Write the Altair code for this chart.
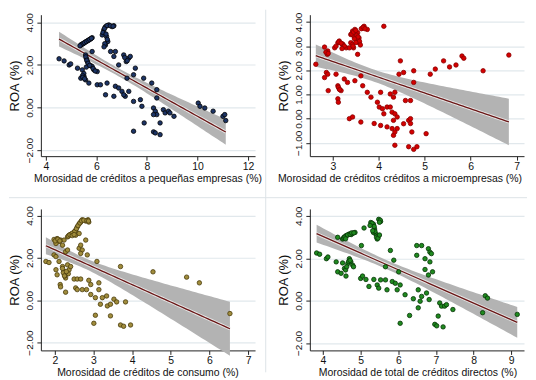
import altair as alt
import numpy as np
import pandas as pd

# ---------------- data ----------------
x1 = [4.52, 4.72, 4.92, 4.98, 5.25, 5.44, 5.51, 5.38, 5.57, 5.70, 5.38, 5.44, 5.50, 5.57, 5.64, 5.70,
      5.77, 5.83, 5.57, 5.60, 5.64, 5.70, 5.77, 5.83, 5.90, 6.03, 5.83, 6.23, 6.29, 6.36, 6.49, 6.62,
      6.69, 6.40, 6.45, 6.36, 6.56, 6.75, 6.69, 6.03, 6.16, 6.42, 6.36, 6.69, 6.75, 6.88, 7.08, 7.18,
      7.28, 7.34, 6.88, 7.01, 7.14, 7.28, 7.08, 7.21, 7.47, 7.54, 7.47, 7.74, 7.80, 7.47, 7.89, 7.87,
      8.19, 8.39, 8.39, 8.26, 8.33, 8.39, 8.26, 8.26, 8.33, 8.52, 8.52, 8.65, 8.72, 8.85, 8.91, 9.07,
      10.03, 10.10, 10.29, 10.62, 11.01, 11.08, 11.12, 5.50, 5.45, 5.60,
      5.41, 5.47, 5.53, 5.60, 5.67, 5.73, 5.80, 5.35, 6.26, 6.32, 6.42, 6.55, 6.66, 6.38, 6.43, 6.33,
      6.30, 5.58, 5.62, 5.67, 5.73, 5.87, 5.95, 5.46, 5.53, 7.12, 7.22]
y1 = [2.29, 2.19, 2.00, 2.05, 1.85, 1.77, 1.46, 1.38, 1.30, 1.15, 2.94, 2.98, 3.02, 3.08, 3.13, 3.17,
      3.22, 3.28, 2.47, 2.30, 2.16, 2.00, 1.97, 1.93, 1.77, 1.69, 2.63, 3.41, 3.64, 3.80, 3.88, 3.80,
      3.84, 3.33, 3.10, 2.94, 2.63, 2.63, 2.40, 1.07, 1.07, 1.15, 0.60, 0.53, 1.00, 2.00, 2.47, 2.16,
      2.32, 2.40, 0.92, 0.76, 0.53, 0.76, 0.60, 1.38, 1.54, 1.85, 0.29, 0.37, 0.06, -1.11, -0.72, 1.38,
      1.15, 0.84, 0.45, -0.02, -0.17, -0.33, -0.33, -1.14, -1.19, -1.27, -0.72, -0.10, -0.25, -0.17, -0.25, -0.41,
      0.21, 0.06, -0.02, -0.17, -0.41, -0.33, -0.61, 1.60, 1.50, 1.90,
      2.96, 3.00, 3.05, 3.10, 3.15, 3.20, 3.25, 2.90, 3.52, 3.72, 3.85, 3.84, 3.82, 3.45, 3.20, 3.00,
      2.85, 2.38, 2.22, 2.08, 1.98, 1.83, 1.72, 1.42, 1.35, 2.35, 2.20]

x2 = [2.63, 2.82, 2.89, 2.88, 2.86, 2.82, 2.89, 2.90, 3.04, 3.11, 3.14, 3.22, 3.29, 3.36, 3.39, 3.43,
      3.39, 3.43, 3.48, 3.54, 3.57, 3.57, 3.54, 3.65, 3.68, 3.75, 3.45, 3.54, 4.11, 3.07, 3.11, 3.14,
      3.18, 3.11, 3.12, 3.25, 3.32, 3.48, 3.61, 3.36, 3.43, 3.61, 3.65, 3.75, 3.83, 3.97, 4.01, 4.08,
      4.04, 4.11, 4.18, 4.25, 4.25, 4.32, 4.35, 3.90, 4.04, 4.18, 4.29, 4.40, 4.32, 4.35, 4.35, 4.29,
      4.35, 4.40, 4.32, 4.47, 4.44, 4.54, 4.76, 4.76, 4.58, 4.69, 4.54, 4.65, 4.69, 4.69, 4.72, 4.65,
      4.76, 4.83, 5.03, 5.12, 5.23, 5.41, 5.54, 5.68, 5.81, 5.85, 6.27, 6.83, 3.46, 3.51, 3.20,
      3.07, 3.13, 3.18, 3.25, 3.20, 3.41, 3.45, 3.50, 3.52, 3.55, 3.58, 3.60, 3.62, 3.66, 3.70, 3.47,
      3.50, 3.44, 2.85, 2.90, 3.12, 3.15]
y2 = [2.25, 2.96, 2.80, 2.66, 1.91, 1.70, 1.84, 1.16, 2.93, 3.14, 3.21, 3.07, 2.93, 2.93, 3.14, 3.07,
      3.48, 3.62, 3.69, 3.55, 3.34, 3.14, 3.28, 3.75, 3.82, 3.69, 2.93, 2.66, 3.82, 1.84, 1.36, 1.23,
      1.16, 0.82, 0.68, 1.64, 1.50, 1.57, 1.77, 0.00, 0.07, -0.14, 1.36, 1.09, 0.89, 0.68, 0.48, 0.41,
      1.09, 0.20, 0.48, 0.48, 1.02, 0.89, 1.09, -0.20, -0.28, -0.34, -0.41, -0.41, -0.69, -0.55, -1.10, 0.27,
      0.20, 0.07, -0.07, 2.39, 1.84, 1.91, 1.98, 1.50, 0.75, 0.75, -0.21, -0.07, 0.00, -0.20, -0.55, -1.16,
      -1.27, -1.16, -0.62, 1.84, 2.05, 2.39, 2.14, 2.22, 2.59, 2.50, 1.98, 2.63, 3.40, 3.30, 3.10,
      3.00, 3.17, 3.12, 3.00, 2.90, 3.50, 3.58, 3.65, 3.45, 3.38, 3.20, 3.05, 3.72, 3.78, 3.72, 3.30,
      3.15, 3.00, 2.75, 2.70, 1.30, 1.20]

x3 = [1.77, 1.85, 1.98, 2.03, 1.98, 2.06, 2.11, 2.15, 2.03, 2.20, 2.24, 2.28, 2.33, 2.03, 2.06, 2.14,
      2.15, 2.11, 2.20, 2.24, 2.28, 2.28, 2.33, 2.37, 2.41, 2.33, 2.37, 2.41, 2.50, 2.54, 2.58, 2.63,
      2.67, 2.71, 2.80, 2.86, 2.88, 2.54, 2.63, 2.50, 2.58, 2.67, 2.54, 2.58, 2.63, 2.67, 2.71, 2.67,
      2.80, 2.84, 2.71, 2.82, 2.88, 2.93, 2.93, 3.05, 3.09, 3.14, 3.14, 3.05, 3.01, 3.18, 3.23, 3.34,
      3.36, 3.44, 3.53, 3.60, 3.44, 3.70, 3.70, 3.78, 3.83, 3.96, 4.54, 5.41, 5.74, 6.53, 2.35, 2.26,
      2.35, 2.39, 2.45, 2.52, 2.56, 2.60, 2.65, 2.69, 2.75, 2.83, 2.87, 2.45, 2.50, 2.01, 2.08, 2.13,
      2.22, 2.25, 2.30, 2.20]
y3 = [1.83, 1.78, 2.14, 2.06, 2.87, 2.91, 2.76, 2.84, 2.68, 2.60, 2.84, 2.29, 2.37, 1.44, 1.20, 0.74,
      0.63, 1.83, 1.59, 1.36, 1.05, 0.38, 1.67, 1.44, 1.59, 2.99, 3.07, 3.11, 3.22, 3.30, 3.46, 3.61,
      3.69, 3.80, 3.74, 3.80, 3.69, 3.07, 3.15, 1.00, 1.00, 1.00, 0.58, 0.50, 2.45, 2.60, 2.37, 2.21,
      2.84, 2.14, 0.50, 0.50, 0.94, 0.74, 0.27, 0.12, 1.83, 0.82, 0.50, -0.71, -1.09, -0.19, 0.12, 0.20,
      -0.27, -0.19, 0.05, -0.08, -0.74, 1.59, -1.17, -1.23, -0.08, -1.17, 1.34, 1.09, 0.82, -0.63, 1.25, 1.15,
      3.03, 3.09, 3.16, 3.26, 3.38, 3.52, 3.65, 3.75, 3.78, 3.76, 3.74, 3.05, 3.10, 2.80, 2.88, 2.80,
      1.30, 1.15, 1.35, 1.50]

x4 = [3.83, 3.91, 4.09, 4.13, 4.35, 4.39, 4.52, 4.39, 4.48, 4.61, 4.52, 4.61, 4.70, 4.79, 4.85, 4.57,
      4.66, 4.70, 4.74, 4.79, 4.81, 5.00, 5.05, 5.14, 5.09, 5.02, 5.22, 5.35, 5.44, 5.48, 5.53, 5.27,
      5.34, 5.37, 5.40, 5.44, 5.48, 5.53, 5.48, 5.34, 5.66, 5.66, 5.70, 5.79, 5.84, 5.88, 5.92, 5.97,
      6.01, 6.05, 6.05, 6.18, 6.30, 6.40, 6.49, 6.49, 6.53, 6.53, 6.58, 6.62, 6.62, 6.71, 6.71, 6.75,
      6.80, 6.80, 6.84, 6.84, 6.88, 6.91, 6.82, 6.97, 7.02, 7.06, 7.10, 7.15, 7.19, 7.23, 7.28, 7.45,
      8.24, 8.31, 8.37, 9.16, 4.56, 4.66, 4.75,
      4.55, 4.58, 4.65, 4.72, 4.76, 4.82, 4.60, 5.30, 5.36, 5.38, 5.42, 5.46, 5.50, 5.52, 5.50, 5.32,
      5.25, 4.60, 4.63, 4.68, 4.72]
y4 = [2.25, 2.19, 1.98, 2.06, 1.83, 2.99, 1.78, 1.36, 1.29, 1.16, 2.91, 3.07, 3.15, 3.18, 3.22, 1.52,
      1.75, 1.98, 1.83, 1.67, 1.60, 1.05, 1.16, 1.00, 3.43, 2.60, 0.67, 1.00, 0.74, 0.59, 0.98, 3.69,
      3.61, 3.38, 3.15, 2.91, 3.07, 3.74, 3.84, 3.22, 1.60, 0.98, 0.51, 2.37, 0.90, 1.91, 0.82, 0.51,
      1.36, 0.74, -1.07, 0.28, -0.70, 0.09, 2.60, 2.14, 0.51, -0.34, -0.03, 0.20, 2.60, 1.98, 1.47, 0.36,
      1.21, 2.45, 2.29, 1.83, 2.22, 1.36, 0.05, -1.12, -1.19, -0.73, -0.11, -0.26, -1.24, -0.26, -0.19, -0.42,
      -0.57, 0.23, 0.12, -0.65, 3.00, 3.10, 3.12,
      2.95, 3.00, 3.10, 3.13, 3.20, 3.20, 2.92, 3.66, 3.50, 3.27, 3.00, 2.95, 3.10, 3.80, 3.70, 3.30,
      3.55, 1.45, 1.60, 1.85, 1.90]

titles = ["Morosidad de créditos a pequeñas empresas (%)",
          "Morosidad de créditos créditos a microempresas (%)",
          "Morosidad de créditos de consumo (%)",
          "Morosidad de total de créditos directos (%)"]
xticks = [[4, 6, 8, 10, 12], [3, 4, 5, 6, 7], [2, 3, 4, 5, 6, 7], [4, 5, 6, 7, 8, 9]]
yticks = [[-2, 0, 2, 4], [-1, 0, 1, 2, 3, 4], [-2, 0, 2, 4], [-2, 0, 2, 4]]
xdoms = [[3.8, 12.28], [2.5, 7.16], [1.64, 7.18], [3.65, 9.34]]
ydoms = [[-2.28, 4.36], [-1.55, 4.3], [-2.37, 4.31], [-2.35, 4.33]]
fills = ["#1c3466", "#d40000", "#a08c3c", "#1f8a1f"]
strokes = ["#050505", "#8a0000", "#4a3c0c", "#063306"]
title_x = [107, 90, 107, 108]

W, H = 215, 142
FONT = "Liberation Sans"
SEP = "#dde4e7"


def fit_band(x, y):
    x = np.asarray(x, float)
    y = np.asarray(y, float)
    n = len(x)
    b, a = np.polyfit(x, y, 1)
    resid = y - (a + b * x)
    s = np.sqrt(np.sum(resid ** 2) / (n - 2))
    xm = x.mean()
    sxx = np.sum((x - xm) ** 2)
    xs = np.linspace(x.min(), x.max(), 60)
    fit = a + b * xs
    se = s * np.sqrt(1.0 / n + (xs - xm) ** 2 / sxx)
    t = 1.98
    return pd.DataFrame({"x": xs, "fit": fit, "lo": fit - t * se, "hi": fit + t * se})


def panel(i, x, y, extra=None):
    df = pd.DataFrame({"x": x, "y": y})
    bd = fit_band(x, y)
    xs = alt.Scale(domain=xdoms[i], nice=False, zero=False)
    ys = alt.Scale(domain=ydoms[i], nice=False, zero=False)
    xaxis = alt.Axis(values=xticks[i], format="d", title=titles[i], grid=False,
                     titleX=title_x[i], titleAnchor="start", titleAlign="center")
    yaxis = alt.Axis(values=yticks[i], format=".2f", title="ROA (%)", grid=True,
                     labelOverlap=False, labelFlush=False, labelSeparation=0)
    band = alt.Chart(bd).mark_area(color="#b3b3b3", opacity=1).encode(
        x=alt.X("x:Q", scale=xs, axis=xaxis),
        y=alt.Y("lo:Q", scale=ys, axis=yaxis),
        y2="hi:Q")
    halo = alt.Chart(bd).mark_line(color="#e6e6e6", strokeWidth=3.2).encode(
        x=alt.X("x:Q", scale=xs, axis=xaxis), y=alt.Y("fit:Q", scale=ys, axis=yaxis))
    line = alt.Chart(bd).mark_line(color="#6a1616", strokeWidth=1.3).encode(
        x=alt.X("x:Q", scale=xs, axis=xaxis), y=alt.Y("fit:Q", scale=ys, axis=yaxis))
    pts = alt.Chart(df).mark_circle(size=20, opacity=1, color=fills[i], stroke=strokes[i],
                                    strokeWidth=0.8).encode(
        x=alt.X("x:Q", scale=xs, axis=xaxis), y=alt.Y("y:Q", scale=ys, axis=yaxis))
    layers = [band, halo, line, pts]
    if extra is not None:
        layers += extra
    return alt.layer(*layers).properties(width=W, height=H)


# separator rules between the panels (drawn in the first panel's pixel frame)
sep_v = alt.Chart(pd.DataFrame({"k": [0]})).mark_rule(color=SEP, strokeWidth=1).encode(
    x=alt.value(225.7), y=alt.value(-5), y2=alt.value(359))
sep_h = alt.Chart(pd.DataFrame({"k": [0]})).mark_rule(color=SEP, strokeWidth=1).encode(
    x=alt.value(-32), x2=alt.value(488), y=alt.value(183.7))

p1 = panel(0, x1, y1, extra=[sep_v, sep_h])
p2 = panel(1, x2, y2)
p3 = panel(2, x3, y3)
p4 = panel(3, x4, y4)

chart = alt.concat(p1, p2, p3, p4, columns=2, spacing={"row": 53, "column": 55},
                   bounds="flush").properties(
    padding={"left": 0, "top": 0, "right": 0, "bottom": 0},
    background="white"
).configure_view(strokeWidth=0).configure_axis(
    labelFont=FONT, titleFont=FONT, labelColor="#111", titleColor="#111",
    domainColor="#222", tickColor="#222", tickSize=4, domainWidth=1, tickWidth=1,
    gridColor="#e1e8ec", gridWidth=1.2, titleFontWeight="normal", labelOverlap=False
).configure_axisX(
    labelFontSize=10.5, titleFontSize=10.5, labelPadding=1, titlePadding=2
).configure_axisY(
    labelFontSize=10, titleFontSize=13, labelAngle=270, labelAlign="center",
    labelBaseline="bottom", labelPadding=2, titlePadding=3, labelOverlap=False
)

chart.save("out.html", embed_options={"renderer": "svg", "actions": False})
